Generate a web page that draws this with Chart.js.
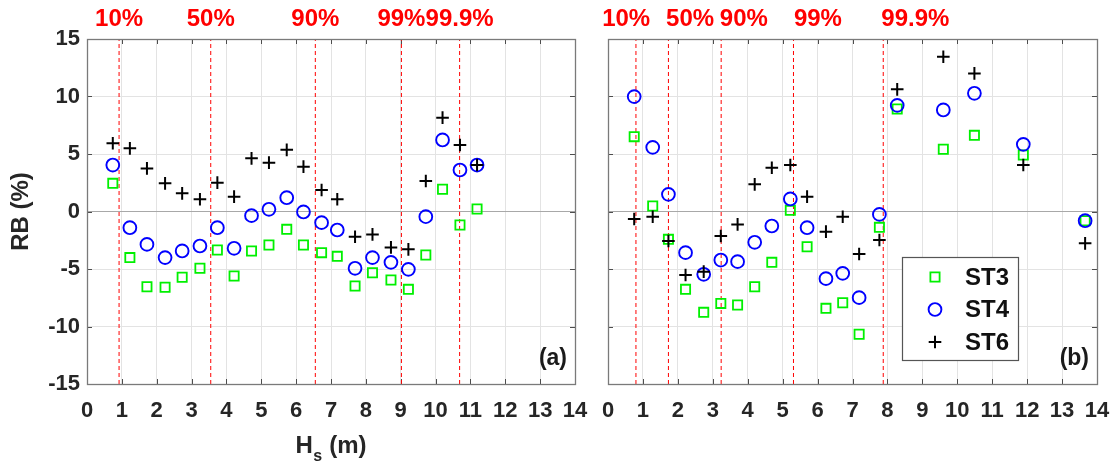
<!DOCTYPE html>
<html>
<head>
<meta charset="utf-8">
<script src="https://cdn.jsdelivr.net/npm/chart.js@4/dist/chart.umd.min.js"></script>
<style>
  html, body { margin: 0; padding: 0; background: #ffffff; }
  #wrap { position: relative; width: 1118px; height: 465px; overflow: hidden; }
  canvas { position: absolute; top: 0; }
  #cA { left: 0; }
  #cB { left: 590px; }
</style>
</head>
<body>
<div id="wrap">
  <canvas id="cA" width="590" height="465"></canvas>
  <canvas id="cB" width="528" height="465"></canvas>
</div>
<script>
// Panel (a): significant wave height bins and relative bias per station
const hsA  = [0.74, 1.23, 1.72, 2.24, 2.73, 3.24, 3.74, 4.22, 4.72, 5.22, 5.73,
              6.21, 6.73, 7.18, 7.69, 8.19, 8.72, 9.22, 9.72, 10.20, 10.70, 11.19];
const st3A = [2.45, -4.01, -6.54, -6.59, -5.72, -4.94, -3.35, -5.61, -3.43, -2.91, -1.55,
              -2.91, -3.58, -3.90, -6.48, -5.32, -5.96, -6.77, -3.78, 1.93, -1.17, 0.22];
const st4A = [4.04, -1.41, -2.86, -4.01, -3.43, -3.00, -1.41, -3.20, -0.36, 0.19, 1.20,
              -0.04, -0.97, -1.61, -4.94, -4.01, -4.42, -5.03, -0.45, 6.22, 3.61, 4.04];
const st6A = [5.93, 5.49, 3.75, 2.45, 1.58, 1.06, 2.51, 1.29, 4.62, 4.25, 5.36,
              3.90, 1.87, 1.06, -2.19, -1.99, -3.12, -3.29, 2.65, 8.16, 5.78, 4.04];

// Panel (b)
const hsB  = [0.75, 1.28, 1.73, 2.22, 2.74, 3.23, 3.71, 4.20, 4.69, 5.22,
              5.70, 6.24, 6.72, 7.19, 7.77, 8.28, 9.60, 10.49, 11.89, 13.66];
const st3B = [6.51, 0.48, -2.42, -6.77, -8.77, -7.99, -8.13, -6.54, -4.42, 0.10,
              -3.06, -8.42, -7.93, -10.68, -1.38, 8.91, 5.41, 6.62, 4.91, -0.80];
const st4B = [9.99, 5.58, 1.49, -3.58, -5.46, -4.22, -4.36, -2.68, -1.26, 1.09,
              -1.41, -5.84, -5.38, -7.49, -0.25, 9.23, 8.83, 10.28, 5.84, -0.80];
const st6B = [-0.65, -0.45, -2.57, -5.52, -5.23, -2.13, -1.12, 2.36, 3.81, 4.04,
              1.29, -1.75, -0.45, -3.70, -2.48, 10.62, 13.46, 12.01, 4.04, -2.77];

// Percentile thresholds of Hs (dashed red lines) and their labels
const pctLabels   = ['10%', '50%', '90%', '99%', '99.9%'];
const pctLinesA   = [0.92, 3.55, 6.55, 9.02, 10.69];
const pctLinesB   = [0.80, 1.73, 3.24, 5.31, 7.88];
const pctLabelXA  = [0.92, 3.55, 6.55, 9.02, 10.69];
const pctLabelXB  = [0.52, 2.35, 3.89, 6.01, 8.80];

const stationNames = ['ST3', 'ST4', 'ST6'];
const xTicks = [0, 1, 2, 3, 4, 5, 6, 7, 8, 9, 10, 11, 12, 13, 14];
const yTicks = [-15, -10, -5, 0, 5, 10, 15];

const FONT = '"Liberation Sans", Arial, Helvetica, sans-serif';
const TXT = '#262626';

const styles = [
  { pointStyle: 'rect',   color: '#00f000', radius: 6.5, width: 1.8 },
  { pointStyle: 'circle', color: '#0000ff', radius: 6.4, width: 1.9 },
  { pointStyle: 'cross',  color: '#000000', radius: 6.3, width: 2.0 }
];

function toPoints(xs, ys) { return xs.map((x, i) => ({ x: x, y: ys[i] })); }

function markerLegendIcon(ctx, st, cx, cy) {
  ctx.save();
  ctx.strokeStyle = st.color;
  ctx.lineWidth = st.width;
  ctx.beginPath();
  if (st.pointStyle === 'rect') {
    const h = st.radius * Math.SQRT1_2;
    ctx.rect(cx - h, cy - h, 2 * h, 2 * h);
  } else if (st.pointStyle === 'circle') {
    ctx.arc(cx, cy, st.radius, 0, Math.PI * 2);
  } else {
    ctx.moveTo(cx - st.radius, cy); ctx.lineTo(cx + st.radius, cy);
    ctx.moveTo(cx, cy - st.radius); ctx.lineTo(cx, cy + st.radius);
  }
  ctx.stroke();
  ctx.restore();
}

// Axes box, inward tick marks, percentile labels, panel tag, legend and titles
const panelDecor = {
  id: 'panelDecor',
  beforeDatasetsDraw(chart) {
    const { ctx, chartArea: a, scales: { x, y } } = chart;
    ctx.save();
    ctx.strokeStyle = '#4d4d4d';
    ctx.lineWidth = 1;
    ctx.beginPath();
    x.ticks.forEach(t => {
      const px = Math.round(x.getPixelForValue(t.value)) + 0.5;
      ctx.moveTo(px, a.bottom); ctx.lineTo(px, a.bottom - 5);
      ctx.moveTo(px, a.top); ctx.lineTo(px, a.top + 5);
    });
    y.ticks.forEach(t => {
      const py = Math.round(y.getPixelForValue(t.value)) + 0.5;
      ctx.moveTo(a.left, py); ctx.lineTo(a.left + 5, py);
      ctx.moveTo(a.right, py); ctx.lineTo(a.right - 5, py);
    });
    ctx.stroke();
    ctx.restore();
  },
  afterDraw(chart, args, o) {
    const { ctx, chartArea: a, scales: { x, y } } = chart;
    ctx.save();
    // box
    ctx.strokeStyle = '#7a7a7a';
    ctx.lineWidth = 1.3;
    ctx.strokeRect(Math.round(a.left) + 0.5, Math.round(a.top) + 0.5,
                   Math.round(a.right - a.left), Math.round(a.bottom - a.top));

    // percentile labels above the axes
    ctx.fillStyle = '#ff0000';
    ctx.font = 'bold 24px ' + FONT;
    ctx.textAlign = 'center';
    ctx.textBaseline = 'middle';
    o.labelX.forEach((v, i) => ctx.fillText(pctLabels[i], x.getPixelForValue(v), 19));

    // panel tag
    ctx.fillStyle = '#1a1a1a';
    ctx.font = 'bold 23px ' + FONT;
    ctx.textAlign = 'right';
    ctx.fillText(o.tag, a.right - 8, a.bottom - 25);

    // legend
    if (o.legend) {
      const bx = a.right - 195, by = a.bottom - 127, bw = 116, bh = 103;
      ctx.fillStyle = '#ffffff';
      ctx.fillRect(bx, by, bw, bh);
      ctx.strokeStyle = '#555555';
      ctx.lineWidth = 1.2;
      ctx.strokeRect(bx + 0.5, by + 0.5, bw, bh);
      ctx.font = 'bold 24px ' + FONT;
      ctx.textAlign = 'left';
      ctx.fillStyle = '#111111';
      stationNames.forEach((name, i) => {
        const cy = by + 20 + i * 32.5;
        markerLegendIcon(ctx, styles[i], bx + 33, cy);
        ctx.fillText(name, bx + 63, cy + 1);
      });
    }

    // axis titles
    if (o.titles) {
      ctx.fillStyle = TXT;
      ctx.textAlign = 'left';
      ctx.textBaseline = 'alphabetic';
      const cx = (a.left + a.right) / 2;
      ctx.font = 'bold 24px ' + FONT;
      const hW = ctx.measureText('H').width;
      const rW = ctx.measureText(' (m)').width;
      ctx.font = 'bold 16px ' + FONT;
      const sW = ctx.measureText('s').width;
      const sx = cx - (hW + sW + 1 + rW) / 2;
      ctx.font = 'bold 24px ' + FONT;
      ctx.fillText('H', sx, 453);
      ctx.fillText(' (m)', sx + hW + sW + 1, 453);
      ctx.font = 'bold 16px ' + FONT;
      ctx.fillText('s', sx + hW + 0.5, 461);

      ctx.font = 'bold 24px ' + FONT;
      ctx.translate(21, (a.top + a.bottom) / 2);
      ctx.rotate(-Math.PI / 2);
      ctx.textAlign = 'center';
      ctx.textBaseline = 'middle';
      ctx.fillText('RB (%)', 0, 0);
    }
    ctx.restore();
  }
};

function makePanel(id, xs, s3, s4, s6, lines, labelX, cfg) {
  const series = [s3, s4, s6];
  const datasets = series.map((ys, i) => ({
    type: 'scatter',
    label: stationNames[i],
    data: toPoints(xs, ys),
    pointStyle: styles[i].pointStyle,
    pointRadius: styles[i].radius,
    pointHoverRadius: styles[i].radius,
    pointBorderColor: styles[i].color,
    pointBackgroundColor: 'rgba(0,0,0,0)',
    pointBorderWidth: styles[i].width,
    showLine: false,
    order: 2 - i
  }));
  lines.forEach(v => datasets.push({
    type: 'line',
    label: '',
    data: [{ x: v, y: yTicks[0] }, { x: v, y: yTicks[yTicks.length - 1] }],
    borderColor: '#ff0000',
    borderWidth: 1,
    borderDash: [4, 3],
    pointRadius: 0,
    fill: false,
    order: 10
  }));

  return new Chart(document.getElementById(id), {
    type: 'scatter',
    data: { datasets },
    plugins: [panelDecor],
    options: {
      responsive: false,
      animation: false,
      devicePixelRatio: 1,
      layout: { padding: { top: 39, right: cfg.padRight, bottom: 0, left: 0 } },
      plugins: {
        legend: { display: false },
        tooltip: { enabled: false },
        panelDecor: { labelX, tag: cfg.tag, legend: cfg.legend, titles: cfg.titles }
      },
      scales: {
        x: {
          type: 'linear',
          min: xTicks[0], max: xTicks[xTicks.length - 1],
          afterBuildTicks: s => { s.ticks = xTicks.map(v => ({ value: v })); },
          afterFit: s => { s.height = 81; s.paddingLeft = 0; s.paddingRight = 0; },
          grid: { color: '#e3e3e3', lineWidth: 1, drawTicks: false },
          border: { display: false },
          ticks: {
            padding: 14,
            color: TXT,
            font: { family: FONT, size: 22, weight: 'bold' },
            maxRotation: 0,
            autoSkip: false
          }
        },
        y: {
          type: 'linear',
          min: yTicks[0], max: yTicks[yTicks.length - 1],
          afterBuildTicks: s => { s.ticks = yTicks.map(v => ({ value: v })); },
          afterFit: s => { s.width = cfg.yWidth; s.paddingTop = 0; s.paddingBottom = 0; },
          grid: {
            color: c => (c.tick && c.tick.value === 0) ? '#a8a8a8' : '#e3e3e3',
            lineWidth: 1,
            drawTicks: false
          },
          border: { display: false },
          ticks: {
            display: cfg.yLabels,
            padding: 7,
            color: TXT,
            font: { family: FONT, size: 22, weight: 'bold' }
          }
        }
      }
    }
  });
}

makePanel('cA', hsA, st3A, st4A, st6A, pctLinesA, pctLabelXA,
  { tag: '(a)', legend: false, titles: true, yLabels: true, yWidth: 87, padRight: 15 });
makePanel('cB', hsB, st3B, st4B, st6B, pctLinesB, pctLabelXB,
  { tag: '(b)', legend: true, titles: false, yLabels: false, yWidth: 18, padRight: 21 });
</script>
</body>
</html>
